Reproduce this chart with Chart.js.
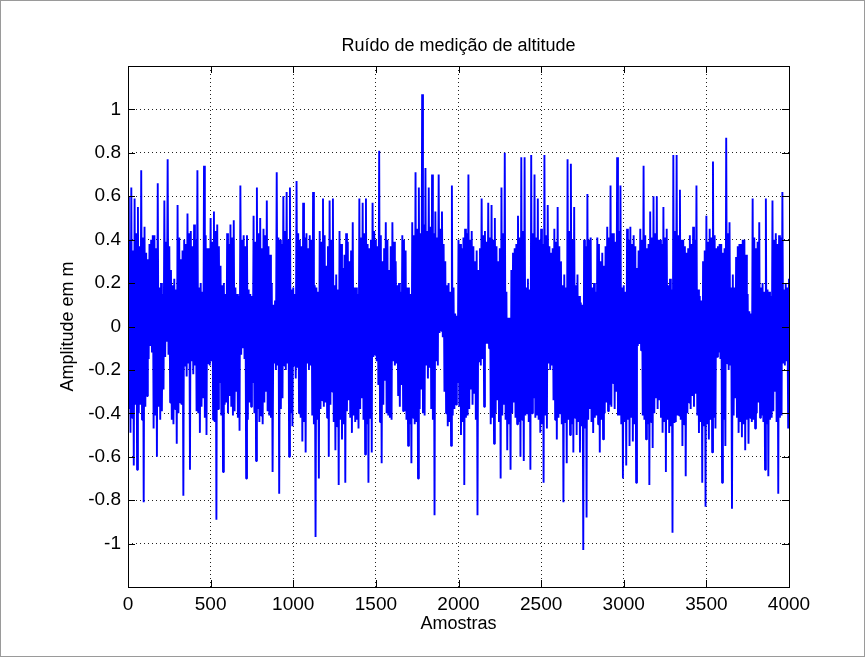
<!DOCTYPE html>
<html lang="pt">
<head>
<meta charset="utf-8">
<title>Ruído de medição de altitude</title>
<script src="https://cdn.jsdelivr.net/npm/chart.js@4.4.1/dist/chart.umd.min.js"></script>
<style>
  html, body { margin: 0; padding: 0; background: #fff; }
  canvas { display: block; }
</style>
</head>
<body>
<canvas id="ruido" width="865" height="657"></canvas>
<script>
// cada bloco de 20 amostras: pico positivo (0), núcleo negativo (5), núcleo positivo (10), pico negativo (15)
const passo = 5;

const picosPositivos = [
  0.60, 0.64, 0.59, 0.55, 0.72, 0.46, 0.31, 0.40, 0.42, 0.66,
  0.20, 0.58, 0.77, 0.26, 0.22, 0.56, 0.31, 0.40, 0.52, 0.44,
  0.47, 0.72, 0.20, 0.74, 0.36, 0.50, 0.53, 0.47, 0.28, 0.20,
  0.43, 0.47, 0.49, 0.15, 0.65, 0.42, 0.42, 0.15, 0.51, 0.64,
  0.50, 0.45, 0.58, 0.33, 0.10, 0.71, 0.40, 0.60, 0.62, 0.64,
  0.18, 0.67, 0.40, 0.57, 0.43, 0.42, 0.62, 0.18, 0.44, 0.59,
  0.28, 0.58, 0.59, 0.24, 0.44, 0.27, 0.43, 0.30, 0.48, 0.18,
  0.59, 0.57, 0.59, 0.36, 0.57, 0.40, 0.81, 0.30, 0.48, 0.26,
  0.48, 0.30, 0.20, 0.42, 0.35, 0.18, 0.48, 0.71, 0.64, 1.07,
  0.73, 0.64, 0.70, 0.53, 0.70, 0.53, 0.30, 0.20, 0.65, 0.06,
  0.40, 0.36, 0.45, 0.70, 0.44, 0.30, 0.26, 0.59, 0.44, 0.57,
  0.56, 0.50, 0.30, 0.64, 0.80, 0.04, 0.26, 0.36, 0.51, 0.78,
  0.78, 0.22, 0.79, 0.70, 0.59, 0.45, 0.79, 0.56, 0.34, 0.45,
  0.55, 0.30, 0.24, 0.77, 0.75, 0.55, 0.24, 0.11, 0.40, 0.61,
  0.41, 0.20, 0.41, 0.30, 0.28, 0.46, 0.65, 0.43, 0.78, 0.65,
  0.19, 0.45, 0.46, 0.42, 0.27, 0.45, 0.74, 0.36, 0.53, 0.60,
  0.60, 0.40, 0.55, 0.45, 0.22, 0.79, 0.79, 0.63, 0.40, 0.34,
  0.42, 0.46, 0.65, 0.14, 0.30, 0.51, 0.45, 0.76, 0.36, 0.38,
  0.34, 0.87, 0.48, 0.24, 0.32, 0.38, 0.40, 0.33, 0.07, 0.59,
  0.36, 0.48, 0.20, 0.59, 0.16, 0.58, 0.43, 0.42, 0.62, 0.20,
  0.22
];

const nucleoNegativo = [
  -0.38, -0.42, -0.36, -0.40, -0.43, -0.37, -0.15, -0.12, -0.41, -0.37,
  -0.39, -0.14, -0.13, -0.43, -0.38, -0.40, -0.36, -0.18, -0.17, -0.16,
  -0.18, -0.40, -0.37, -0.42, -0.17, -0.16, -0.44, -0.38, -0.41, -0.36,
  -0.40, -0.37, -0.39, -0.42, -0.13, -0.15, -0.43, -0.37, -0.40, -0.38,
  -0.41, -0.35, -0.39, -0.42, -0.17, -0.18, -0.38, -0.18, -0.17, -0.40,
  -0.18, -0.19, -0.42, -0.44, -0.17, -0.18, -0.45, -0.43, -0.38, -0.37,
  -0.42, -0.36, -0.44, -0.46, -0.43, -0.45, -0.39, -0.42, -0.41, -0.43,
  -0.38, -0.43, -0.45, -0.42, -0.14, -0.16, -0.44, -0.36, -0.40, -0.42,
  -0.16, -0.17, -0.37, -0.39, -0.43, -0.45, -0.42, -0.44, -0.38, -0.40,
  -0.18, -0.19, -0.43, -0.16, -0.03, -0.05, -0.40, -0.44, -0.41, -0.36,
  -0.37, -0.44, -0.42, -0.38, -0.36, -0.43, -0.16, -0.15, -0.08, -0.10,
  -0.42, -0.40, -0.44, -0.41, -0.43, -0.45, -0.40, -0.42, -0.44, -0.43,
  -0.41, -0.44, -0.40, -0.42, -0.43, -0.45, -0.41, -0.17, -0.18, -0.43,
  -0.42, -0.45, -0.44, -0.43, -0.45, -0.42, -0.44, -0.46, -0.47, -0.43,
  -0.44, -0.42, -0.45, -0.43, -0.40, -0.39, -0.37, -0.38, -0.41, -0.45,
  -0.44, -0.43, -0.42, -0.45, -0.09, -0.11, -0.43, -0.45, -0.44, -0.40,
  -0.38, -0.42, -0.44, -0.43, -0.46, -0.44, -0.41, -0.43, -0.45, -0.40,
  -0.38, -0.37, -0.41, -0.44, -0.46, -0.45, -0.43, -0.42, -0.14, -0.15,
  -0.43, -0.17, -0.18, -0.41, -0.42, -0.44, -0.45, -0.43, -0.42, -0.43,
  -0.40, -0.42, -0.44, -0.45, -0.43, -0.39, -0.44, -0.42, -0.17, -0.16
];

const nucleoPositivo = [
  0.40, 0.35, 0.43, 0.37, 0.41, 0.34, 0.38, 0.42, 0.36, 0.18,
  0.15, 0.39, 0.37, 0.19, 0.17, 0.41, 0.35, 0.38, 0.43, 0.37,
  0.40, 0.18, 0.16, 0.42, 0.36, 0.39, 0.44, 0.37, 0.19, 0.15,
  0.38, 0.41, 0.18, 0.14, 0.40, 0.37, 0.17, 0.14, 0.39, 0.43,
  0.36, 0.42, 0.37, 0.20, 0.12, 0.41, 0.38, 0.44, 0.40, 0.17,
  0.15, 0.43, 0.37, 0.41, 0.36, 0.40, 0.19, 0.16, 0.39, 0.42,
  0.37, 0.40, 0.19, 0.17, 0.38, 0.33, 0.39, 0.35, 0.18, 0.15,
  0.41, 0.43, 0.38, 0.40, 0.44, 0.37, 0.42, 0.36, 0.40, 0.37,
  0.39, 0.19, 0.16, 0.40, 0.18, 0.15, 0.42, 0.45, 0.43, 0.47,
  0.44, 0.46, 0.43, 0.41, 0.45, 0.38, 0.19, 0.16, 0.18, 0.05,
  0.38, 0.41, 0.43, 0.40, 0.37, 0.35, 0.36, 0.42, 0.39, 0.41,
  0.40, 0.37, 0.36, 0.43, 0.16, 0.04, 0.34, 0.38, 0.41, 0.44,
  0.18, 0.17, 0.43, 0.41, 0.40, 0.38, 0.42, 0.37, 0.36, 0.39,
  0.37, 0.19, 0.18, 0.44, 0.40, 0.19, 0.14, 0.10, 0.37, 0.40,
  0.18, 0.16, 0.38, 0.34, 0.37, 0.41, 0.43, 0.39, 0.44, 0.18,
  0.16, 0.40, 0.38, 0.37, 0.35, 0.40, 0.42, 0.38, 0.41, 0.43,
  0.40, 0.38, 0.41, 0.19, 0.17, 0.44, 0.42, 0.40, 0.37, 0.36,
  0.38, 0.40, 0.17, 0.12, 0.35, 0.39, 0.41, 0.42, 0.37, 0.38,
  0.36, 0.43, 0.18, 0.18, 0.37, 0.38, 0.40, 0.15, 0.06, 0.41,
  0.39, 0.18, 0.16, 0.17, 0.14, 0.40, 0.38, 0.41, 0.17, 0.18
];

const picosNegativos = [
  -0.49, -0.64, -0.66, -0.36, -0.81, -0.32, -0.09, -0.47, -0.60, -0.43,
  -0.29, -0.07, -0.35, -0.45, -0.54, -0.35, -0.78, -0.23, -0.66, -0.22,
  -0.39, -0.49, -0.33, -0.50, -0.18, -0.43, -0.89, -0.26, -0.67, -0.35,
  -0.32, -0.41, -0.30, -0.48, -0.10, -0.70, -0.35, -0.26, -0.62, -0.44,
  -0.45, -0.30, -0.41, -0.67, -0.20, -0.77, -0.33, -0.20, -0.60, -0.46,
  -0.24, -0.40, -0.53, -0.58, -0.20, -0.41, -0.97, -0.70, -0.34, -0.35,
  -0.60, -0.30, -0.57, -0.73, -0.52, -0.72, -0.34, -0.49, -0.44, -0.47,
  -0.33, -0.59, -0.72, -0.58, -0.13, -0.27, -0.63, -0.25, -0.41, -0.43,
  -0.18, -0.32, -0.27, -0.39, -0.55, -0.63, -0.45, -0.70, -0.29, -0.41,
  -0.24, -0.38, -0.87, -0.18, -0.02, -0.30, -0.46, -0.55, -0.38, -0.26,
  -0.50, -0.73, -0.41, -0.29, -0.31, -0.87, -0.18, -0.37, -0.08, -0.45,
  -0.54, -0.34, -0.70, -0.36, -0.57, -0.66, -0.35, -0.45, -0.60, -0.62,
  -0.40, -0.66, -0.33, -0.41, -0.49, -0.72, -0.47, -0.20, -0.34, -0.52,
  -0.40, -0.81, -0.63, -0.50, -0.58, -0.50, -0.58, -1.03, -0.88, -0.38,
  -0.49, -0.41, -0.58, -0.52, -0.35, -0.36, -0.26, -0.30, -0.41, -0.70,
  -0.64, -0.55, -0.53, -0.72, -0.08, -0.41, -0.52, -0.73, -0.56, -0.33,
  -0.34, -0.49, -0.67, -0.49, -0.95, -0.44, -0.41, -0.55, -0.69, -0.35,
  -0.32, -0.31, -0.49, -0.72, -0.83, -0.52, -0.58, -0.47, -0.12, -0.72,
  -0.55, -0.20, -0.84, -0.33, -0.49, -0.51, -0.57, -0.54, -0.44, -0.47,
  -0.35, -0.41, -0.66, -0.69, -0.42, -0.30, -0.77, -0.41, -0.18, -0.47
];

const rotulosX = [0, 500, 1000, 1500, 2000, 2500, 3000, 3500, 4000];
const rotulosY = [-1, -0.8, -0.6, -0.4, -0.2, 0, 0.2, 0.4, 0.6, 0.8, 1];

const titulo = "Ruído de medição de altitude";
const nomeX = "Amostras";
const nomeY = "Amplitude em m";

// monta o traço na ordem das amostras
const pontos = [];
for (let i = 0; i < picosPositivos.length; i++) {
  const base = 4 * i * passo;
  pontos.push({ x: base, y: picosPositivos[i] });
  if (i < picosNegativos.length) {
    pontos.push({ x: base + passo, y: nucleoNegativo[i] });
    pontos.push({ x: base + 2 * passo, y: nucleoPositivo[i] });
    pontos.push({ x: base + 3 * passo, y: picosNegativos[i] });
  }
}

const fonte = "'Liberation Sans', Arial, sans-serif";

// caixa dos eixos, marcas para dentro, títulos e moldura
const estiloMatlab = {
  id: "estiloMatlab",
  afterDatasetsDraw(chart) {
    const { ctx, chartArea: a, scales } = chart;
    const tam = 7;
    ctx.save();
    ctx.strokeStyle = "#000";
    ctx.lineWidth = 1;
    ctx.strokeRect(a.left + 0.5, a.top + 0.5, a.right - a.left, a.bottom - a.top);
    ctx.beginPath();
    rotulosX.forEach(v => {
      const px = Math.round(scales.x.getPixelForValue(v)) + 0.5;
      ctx.moveTo(px, a.bottom); ctx.lineTo(px, a.bottom - tam);
      ctx.moveTo(px, a.top); ctx.lineTo(px, a.top + tam);
    });
    rotulosY.forEach(v => {
      const py = Math.round(scales.y.getPixelForValue(v)) + 0.5;
      ctx.moveTo(a.left, py); ctx.lineTo(a.left + tam, py);
      ctx.moveTo(a.right, py); ctx.lineTo(a.right - tam, py);
    });
    ctx.stroke();
    ctx.restore();
  },
  afterDraw(chart) {
    const { ctx, chartArea: a, width, height } = chart;
    const meio = (a.left + a.right) / 2;
    ctx.save();
    ctx.fillStyle = "#000";
    ctx.font = "18px " + fonte;
    ctx.textAlign = "center";
    ctx.textBaseline = "alphabetic";
    ctx.fillText(titulo, meio, 51);
    ctx.fillText(nomeX, meio, 629);
    ctx.translate(73, (a.top + a.bottom) / 2);
    ctx.rotate(-Math.PI / 2);
    ctx.fillText(nomeY, 0, 0);
    ctx.restore();
    ctx.save();
    ctx.strokeStyle = "#9a9a9a";
    ctx.lineWidth = 1;
    ctx.strokeRect(0.5, 0.5, width - 1, height - 1);
    ctx.restore();
  }
};

const grade = { color: "#222", lineWidth: 1, drawTicks: false };
const borda = { display: false, dash: [1, 3] };

new Chart(document.getElementById("ruido"), {
  type: "line",
  data: {
    datasets: [{
      data: pontos,
      borderColor: "#0000ff",
      borderWidth: 1.9,
      borderJoinStyle: "bevel",
      pointRadius: 0,
      tension: 0,
      fill: false
    }]
  },
  options: {
    responsive: false,
    animation: false,
    devicePixelRatio: 1,
    parsing: false,
    layout: { padding: { top: 66, right: 76, bottom: 0, left: 0 } },
    plugins: { legend: { display: false }, tooltip: { enabled: false } },
    scales: {
      x: {
        type: "linear",
        min: 0,
        max: 4000,
        afterFit: s => { s.height = 70; },
        afterBuildTicks: s => { s.ticks = rotulosX.map(v => ({ value: v })); },
        border: borda,
        grid: grade,
        ticks: {
          color: "#000",
          font: { family: fonte, size: 19 },
          padding: 6,
          maxRotation: 0,
          callback: v => String(v)
        }
      },
      y: {
        type: "linear",
        min: -1.2,
        max: 1.2,
        afterFit: s => { s.width = 128; },
        afterBuildTicks: s => { s.ticks = rotulosY.map(v => ({ value: v })); },
        border: borda,
        grid: grade,
        ticks: {
          color: "#000",
          font: { family: fonte, size: 19 },
          padding: 7,
          callback: v => String(Math.round(v * 10) / 10)
        }
      }
    }
  },
  plugins: [estiloMatlab]
});
</script>
</body>
</html>
